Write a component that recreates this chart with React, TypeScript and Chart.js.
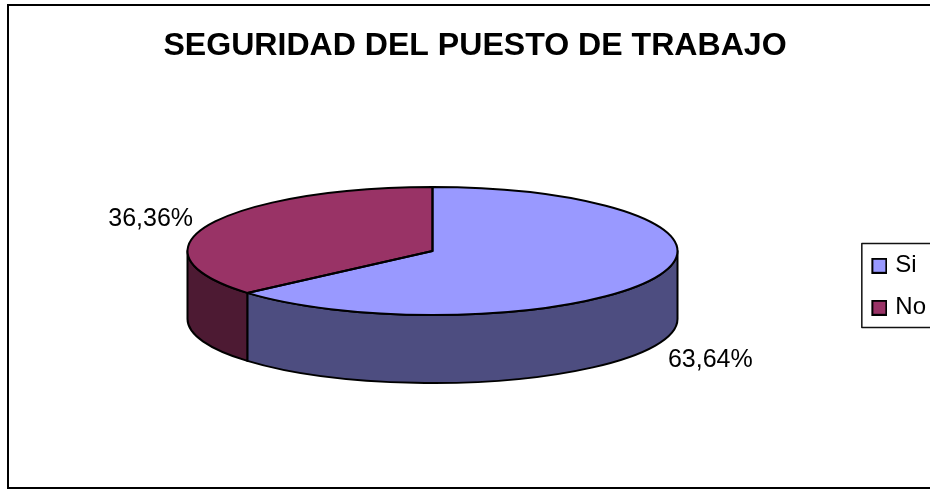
import React, { useEffect, useRef } from "react";
import { Chart, registerables } from "chart.js";

Chart.register(...registerables);

const categories = ["Si", "No"];
const percentages = [63.64, 36.36];
const topColors = ["#9999FF", "#993366"];
const wallColors = ["#4D4D80", "#4D1A33"];
const titleText = "SEGURIDAD DEL PUESTO DE TRABAJO";
const FONT = '"Liberation Sans", Arial, sans-serif';

// Picture geometry of the tilted disc.
const DISC = { x: 432.5, y: 251, rx: 245, ry: 64, depth: 68 };
const labelOffsets = [
  { x: 55, y: 83 },
  { x: -59, y: -5 },
];

const disc3d = {
  id: "disc3d",
  beforeDraw(chart: any) {
    const { ctx } = chart;
    ctx.save();
    ctx.fillStyle = "#FFFFFF";
    ctx.fillRect(0, 0, chart.width, chart.height);
    ctx.strokeStyle = "#000000";
    ctx.lineWidth = 2;
    ctx.strokeRect(8, 5, 934, 483);
    ctx.restore();
  },
  beforeDatasetsDraw(chart: any) {
    const { ctx } = chart;
    const arcs = chart.getDatasetMeta(0).data;
    const { x, y, rx, ry, depth } = DISC;
    ctx.save();
    ctx.lineWidth = 2;
    ctx.lineJoin = "round";
    ctx.strokeStyle = "#000000";
    arcs.forEach((arc: any, i: number) => {
      const s = Math.max(arc.startAngle, 0);
      const e = Math.min(arc.endAngle, Math.PI);
      if (e <= s) return;
      ctx.beginPath();
      ctx.ellipse(x, y, rx, ry, 0, s, e, false);
      ctx.lineTo(x + rx * Math.cos(e), y + ry * Math.sin(e) + depth);
      ctx.ellipse(x, y + depth, rx, ry, 0, e, s, true);
      ctx.closePath();
      ctx.fillStyle = wallColors[i];
      ctx.fill();
      ctx.stroke();
    });
    ctx.restore();

    const first = arcs[0];
    ctx.save();
    ctx.translate(x, y);
    ctx.scale(1, ry / rx);
    ctx.translate(-first.x, -first.y);
  },
  afterDatasetsDraw(chart: any) {
    const { ctx } = chart;
    ctx.restore();
    const arcs = chart.getDatasetMeta(0).data;
    const { x, y, rx, ry } = DISC;
    ctx.save();
    ctx.lineWidth = 2;
    ctx.lineJoin = "round";
    ctx.strokeStyle = "#000000";
    arcs.forEach((arc: any) => {
      ctx.beginPath();
      ctx.moveTo(x, y);
      ctx.ellipse(x, y, rx, ry, 0, arc.startAngle, arc.endAngle, false);
      ctx.closePath();
      ctx.stroke();
    });
    ctx.fillStyle = "#000000";
    ctx.font = `25px ${FONT}`;
    ctx.textAlign = "center";
    ctx.textBaseline = "middle";
    arcs.forEach((arc: any, i: number) => {
      const mid = (arc.startAngle + arc.endAngle) / 2;
      const text = percentages[i].toFixed(2).replace(".", ",") + "%";
      ctx.fillText(
        text,
        x + rx * Math.cos(mid) + labelOffsets[i].x,
        y + ry * Math.sin(mid) + labelOffsets[i].y
      );
    });
    // Legend frame
    const legend = chart.legend;
    ctx.strokeStyle = "#111111";
    ctx.lineWidth = 1.5;
    ctx.strokeRect(legend.left + 8.5, 243.5, 90, 84);
    ctx.restore();
  },
};

// A framed 16px swatch, placed at the right of a wider image so that the legend,
// which centres the image on its 12px box, puts it close to the text.
function swatch(color: string) {
  const c = document.createElement("canvas");
  c.width = 20;
  c.height = 16;
  const g = c.getContext("2d") as CanvasRenderingContext2D;
  g.fillStyle = color;
  g.fillRect(4, 0, 16, 16);
  g.strokeStyle = "#000000";
  g.lineWidth = 2;
  g.strokeRect(5, 1, 14, 14);
  return c;
}

export default function App() {
  const ref = useRef<HTMLCanvasElement | null>(null);
  useEffect(() => {
    document.body.style.margin = "0";
    const chart = new Chart(ref.current as HTMLCanvasElement, {
      type: "pie",
      data: {
        labels: categories,
        datasets: [
          {
            data: percentages,
            backgroundColor: topColors,
            borderWidth: 0,
            radius: DISC.rx,
            clip: 600,
          } as any,
        ],
      },
      options: {
        responsive: false,
        animation: false,
        layout: { padding: { left: 14, right: 14 } },
        plugins: {
          title: {
            display: true,
            text: titleText,
            color: "#000000",
            font: { family: FONT, size: 32.1, weight: "bold", lineHeight: 1.2 },
            padding: { top: 27, bottom: 19 },
          },
          legend: {
            display: true,
            position: "right",
            fullSize: false,
            labels: {
              usePointStyle: true,
              pointStyleWidth: 12,
              boxWidth: 12,
              boxHeight: 16,
              padding: 18,
              color: "#000000",
              font: { family: FONT, size: 24 },
              generateLabels: () =>
                categories.map((text, i) => ({
                  text,
                  fillStyle: topColors[i],
                  strokeStyle: "#000000",
                  lineWidth: 2,
                  pointStyle: swatch(topColors[i]),
                  index: i,
                })),
            },
          },
          tooltip: { enabled: false },
        },
      } as any,
      plugins: [disc3d],
    });
    return () => chart.destroy();
  }, []);
  return (
    <div style={{ width: 930, height: 489, overflow: "hidden", position: "relative" }}>
      <canvas ref={ref} width={950} height={489} style={{ display: "block" }} />
    </div>
  );
}
